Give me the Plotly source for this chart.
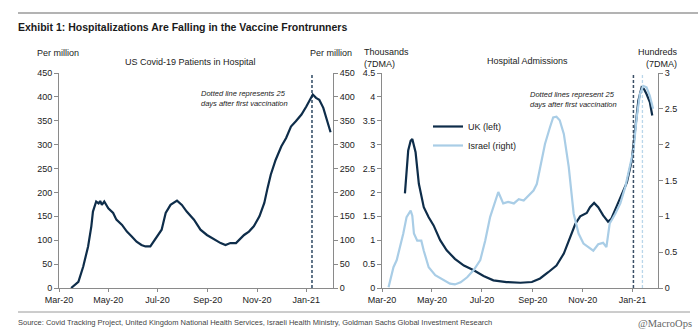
import pandas as pd
import plotly.graph_objects as go

W, H = 698, 336
BASE = "2020-03-01"

# US Covid-19 patients in hospital, per million (days since 2020-03-01)
us_days = [15, 24, 30, 36, 40, 42, 46, 49, 51, 53, 56, 61, 67, 71, 78, 84, 90, 96, 102, 107,
           113, 117, 123, 127, 129, 132, 138, 144, 146, 152, 158, 167, 175, 183, 192, 200, 206,
           212, 219, 223, 229, 235, 241, 248, 254, 258, 262, 268, 275, 281, 287, 293, 300, 306,
           310, 314, 318, 322, 327, 331, 335, 336]
us_vals = [0, 13, 45, 87, 129, 160, 181, 177, 182, 174, 181, 167, 157, 143, 132, 118, 108, 97, 90, 87,
           87, 97, 111, 122, 136, 157, 174, 181, 183, 174, 160, 143, 122, 111, 101, 94, 90,
           94, 94, 101, 111, 118, 129, 150, 178, 209, 237, 268, 296, 314, 338, 349, 363, 380,
           394, 405, 398, 394, 377, 352, 331, 326]

# UK hospital admissions, thousands (7DMA)
uk_days = [28, 32, 35, 37, 41, 45, 51, 57, 63, 71, 79, 89, 100, 112, 124, 136, 152, 169, 183, 193,
           203, 213, 222, 230, 236, 242, 250, 254, 259, 264, 270, 276, 280, 287, 293, 299, 305,
           309, 313, 317, 320, 323, 327, 330]
uk_vals = [1.98, 2.88, 3.08, 3.12, 2.84, 2.18, 1.69, 1.48, 1.31, 1.0, 0.79, 0.61, 0.47, 0.37, 0.25,
           0.16, 0.125, 0.11, 0.125, 0.2, 0.33, 0.47, 0.72, 1.07, 1.34, 1.5, 1.57, 1.69, 1.78, 1.69,
           1.52, 1.39, 1.45, 1.73, 1.97, 2.21, 2.67, 3.29, 3.92, 4.2, 4.16, 4.06, 3.89, 3.61]

# Israel hospital admissions, hundreds (7DMA)
isr_days = [8, 14, 18, 22, 26, 30, 35, 37, 39, 43, 48, 51, 57, 65, 75, 83, 89, 96, 104, 112, 120,
            126, 132, 138, 142, 148, 154, 161, 167, 173, 179, 185, 189, 193, 199, 205, 209, 213,
            217, 222, 228, 234, 240, 246, 252, 258, 264, 270, 274, 278, 285, 291, 297, 303, 307,
            311, 315, 319, 323, 327, 331]
isr_vals = [0.01, 0.29, 0.39, 0.57, 0.76, 0.99, 1.08, 1.01, 0.76, 0.66, 0.66, 0.52, 0.29, 0.18, 0.11,
            0.06, 0.05, 0.08, 0.15, 0.25, 0.39, 0.66, 0.99, 1.22, 1.34, 1.18, 1.2, 1.18, 1.24, 1.22,
            1.29, 1.36, 1.45, 1.69, 2.01, 2.24, 2.38, 2.39, 2.34, 2.15, 1.69, 1.04, 0.76, 0.62, 0.57,
            0.52, 0.61, 0.63, 0.57, 0.9, 1.04, 1.18, 1.41, 1.69, 1.92, 2.38, 2.71, 2.82, 2.80, 2.68,
            2.5]

us_vax_line = "2021-01-08"
uk_vax_line = "2021-01-02"
isr_vax_line = "2021-01-13"

DARK = "#0e2d4a"
LIGHT = "#a9cde6"
AXIS = "#8a8a8a"
TXT = "#222222"
FONT = "Liberation Sans, Arial, sans-serif"


def to_dates(days):
    return pd.Timestamp(BASE) + pd.to_timedelta(days, unit="D")


def px(x):
    return x / W


def py(y):
    return 1 - y / H


fig = go.Figure()
fig.add_trace(go.Scatter(x=to_dates(us_days), y=us_vals, mode="lines",
                         line=dict(color=DARK, width=2.2), showlegend=False,
                         xaxis="x", yaxis="y"))
fig.add_trace(go.Scatter(x=to_dates(us_days), y=us_vals, mode="lines",
                         line=dict(color="rgba(0,0,0,0)", width=0), showlegend=False,
                         hoverinfo="skip", xaxis="x", yaxis="y2"))
fig.add_trace(go.Scatter(x=to_dates(uk_days), y=uk_vals, mode="lines", name="UK (left)",
                         line=dict(color=DARK, width=2.2), xaxis="x2", yaxis="y3"))
fig.add_trace(go.Scatter(x=to_dates(isr_days), y=isr_vals, mode="lines", name="Israel (right)",
                         line=dict(color=LIGHT, width=2.2), xaxis="x2", yaxis="y4"))

ydom = [py(288), py(73)]
xcommon = dict(type="date", tickformat="%b-%y", dtick="M2", tick0=BASE,
               showline=True, linecolor=AXIS, linewidth=1, ticks="outside", ticklen=3,
               tickcolor=AXIS, showgrid=False, zeroline=False, automargin=False,
               tickfont=dict(size=9, color=TXT, family=FONT))
ycommon = dict(showline=True, linecolor=AXIS, linewidth=1, ticks="outside", ticklen=4,
               tickcolor=AXIS, showgrid=False, zeroline=False, automargin=False,
               tickfont=dict(size=9, color=TXT, family=FONT))

fig.update_layout(
    template="none",
    width=W, height=H, margin=dict(l=0, r=0, t=0, b=0, pad=0, autoexpand=False),
    paper_bgcolor="white", plot_bgcolor="white",
    font=dict(family=FONT, size=9, color=TXT),
    hovermode=False,
    xaxis=dict(domain=[px(59), px(333)], range=["2020-03-01", "2021-02-03"], anchor="y", **xcommon),
    yaxis=dict(domain=ydom, range=[0, 450], dtick=50, anchor="x", **ycommon),
    yaxis2=dict(range=[0, 450], dtick=50, overlaying="y", side="right", anchor="x", **ycommon),
    xaxis2=dict(domain=[px(382), px(658)], range=["2020-03-01", "2021-02-01"], anchor="y3", **xcommon),
    yaxis3=dict(domain=ydom, range=[0, 4.5], dtick=0.5, anchor="x2", **ycommon),
    yaxis4=dict(range=[0, 3], dtick=0.5, overlaying="y3", side="right", anchor="x2", **ycommon),
    legend=dict(x=px(428), y=py(112), xanchor="left", yanchor="top",
                bgcolor="rgba(0,0,0,0)", font=dict(size=9, color=TXT), itemwidth=30,
                tracegroupgap=0),
)

shapes = [
    dict(type="line", xref="paper", yref="paper", x0=px(18), x1=1, y0=py(13), y1=py(13),
         line=dict(color="#9a9a9a", width=1.5)),
    dict(type="line", xref="paper", yref="paper", x0=px(18), x1=px(690), y0=py(312), y1=py(312),
         line=dict(color="#9a9a9a", width=1)),
    dict(type="line", xref="x", yref="y domain", x0=us_vax_line, x1=us_vax_line, y0=0, y1=1,
         line=dict(color=DARK, width=1.3, dash="3px,2px")),
    dict(type="line", xref="x2", yref="y3 domain", x0=uk_vax_line, x1=uk_vax_line, y0=0, y1=1,
         line=dict(color="#3a4f66", width=1.5, dash="3px,2px")),
    dict(type="line", xref="x2", yref="y3 domain", x0=isr_vax_line, x1=isr_vax_line, y0=0, y1=1,
         line=dict(color="#b9d6ea", width=1.3, dash="3px,2px")),
]
fig.update_layout(shapes=shapes)

ann = []


def add_text(text, x, y, xanchor="left", size=9, family=FONT, color=TXT, yanchor="middle"):
    ann.append(dict(text=text, x=px(x), y=py(y), xref="paper", yref="paper", showarrow=False,
                    xanchor=xanchor, yanchor=yanchor, align=xanchor if xanchor != "center" else "center",
                    borderpad=0, font=dict(size=size, family=family, color=color)))


add_text("<b>Exhibit 1: Hospitalizations Are Falling in the Vaccine Frontrunners</b>", 17, 27,
         size=10.5, color="#1a1a1a")
add_text("Per million", 36, 53)
add_text("US Covid-19 Patients in Hospital", 190, 62, xanchor="center")
add_text("Per million", 353, 53, xanchor="right")
add_text("Thousands<br>(7DMA)", 363, 58)
add_text("Hospital Admissions", 527, 61, xanchor="center")
add_text("Hundreds<br>(7DMA)", 679, 58, xanchor="right")
add_text("<i>Dotted line represents 25<br>days after first vaccination</i>", 200, 98, size=7.5)
add_text("<i>Dotted lines represent 25<br>days after first vaccination</i>", 529, 99, size=7.5)
add_text("Source: Covid Tracking Project, United Kingdom National Health Services, Israeli Health Ministry, "
         "Goldman Sachs Global Investment Research", 17, 322, size=7.5, color="#444444")
add_text("@MacroOps", 693, 323, xanchor="right", size=10.5, family="Liberation Serif, serif",
         color="#666666")
fig.update_layout(annotations=ann)

fig.write_html("out.html")
